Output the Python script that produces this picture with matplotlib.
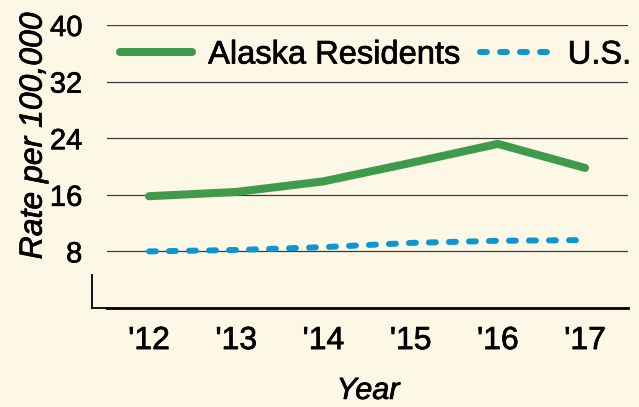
import matplotlib.pyplot as plt
import matplotlib.patheffects as pe
from matplotlib.lines import Line2D


# =========================
# 1. DATA
# =========================

years = [2012, 2013, 2014, 2015, 2016, 2017]
year_labels = ["'12", "'13", "'14", "'15", "'16", "'17"]
alaska_rate = [15.8, 16.4, 17.9, 20.5, 23.2, 19.8]
us_rate = [8.0, 8.2, 8.6, 9.2, 9.5, 9.6]
y_ticks = [8, 16, 24, 32, 40]

BG = "#FDF7E5"
GREEN = "#3F9A4B"
BLUE = "#0D96D1"


# =========================
# 2. FIGURE
# =========================

plt.rcParams["font.family"] = ["Liberation Sans", "DejaVu Sans"]

fig = plt.figure(figsize=(6.39, 4.07), dpi=100)
fig.patch.set_facecolor(BG)

W, H = 639, 407
left, right, top, bottom = 107, 628, 25, 308
ax = fig.add_axes([left / W, 1 - bottom / H, (right - left) / W, (bottom - top) / H])
ax.set_facecolor(BG)

# gridlines
for t in y_ticks:
    ax.axhline(t, color="#3a3a3a", lw=0.9, zorder=1)

ax.plot(years, alaska_rate, color=GREEN, lw=5.8, solid_capstyle="round",
        solid_joinstyle="miter", label="Alaska Residents", zorder=3)
ax.plot(years, us_rate, color=BLUE, lw=4.3, dashes=(1.15, 2.2),
        dash_capstyle="round", label="U.S.", zorder=3)

ax.set_xlim(2011.518, 2017.493)
ax.set_ylim(0, 40)

ax.set_xticks(years)
ax.set_xticklabels(year_labels)
ax.set_yticks(y_ticks)
ax.tick_params(axis="both", length=0)
ax.tick_params(axis="x", labelsize=23, pad=13)
ax.tick_params(axis="y", labelsize=21, pad=7)

# spines
for s in ["top", "right"]:
    ax.spines[s].set_visible(False)
ax.spines["left"].set_position(("outward", 15 * 0.72))
ax.spines["left"].set_bounds(0, 4.7)
ax.spines["left"].set_linewidth(1.3)
ax.spines["bottom"].set_linewidth(2.0)
corner = Line2D([-15 / (right - left), 0.01], [0, 0], transform=ax.transAxes,
                color="black", lw=1.3, clip_on=False, zorder=2)
ax.add_line(corner)

ax.set_ylabel("Rate per 100,000", fontsize=23, style="italic")
ax.yaxis.set_label_coords(-0.112, 0.608)
ax.set_xlabel("Year", fontsize=22, style="italic")
ax.xaxis.set_label_coords(0.501, -0.24)

leg = ax.legend(loc="center left", bbox_to_anchor=((120 - left) / (right - left), 0.894),
                ncol=2, frameon=False, fontsize=23.5, handlelength=2.2,
                handletextpad=0.5, columnspacing=0.6, borderpad=0, borderaxespad=0)

# the print looks a touch heavier than regular weight
thick = [pe.withStroke(linewidth=0.5, foreground="black")]
texts = ax.get_xticklabels() + ax.get_yticklabels() + leg.get_texts()
texts += [ax.xaxis.label, ax.yaxis.label]
for t in texts:
    t.set_path_effects(thick)

fig.savefig("out.png", dpi=100, facecolor=BG)
